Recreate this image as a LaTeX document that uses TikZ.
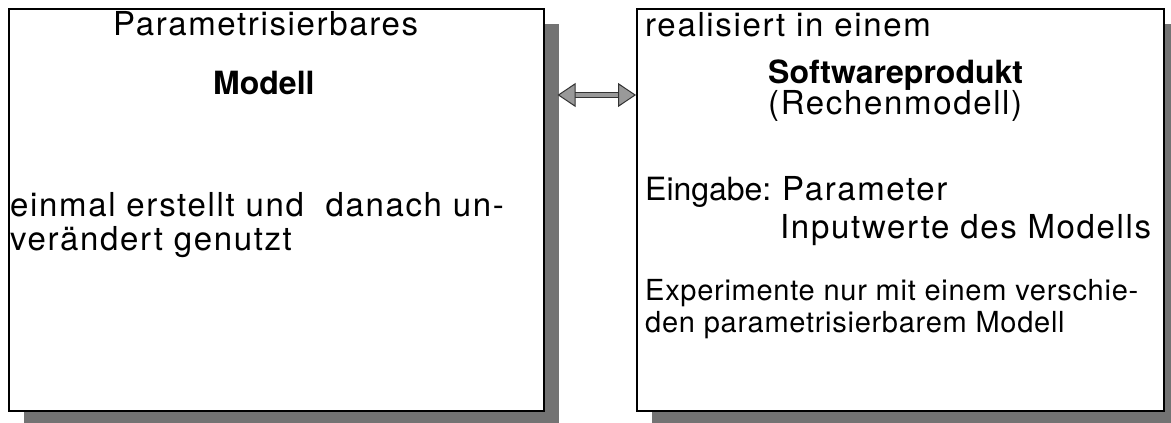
\documentclass[tikz,border=0pt]{standalone}
\usepackage{fontspec}
\setmainfont{TeX Gyre Heros}
\newfontfamily\widefont[LetterSpace=5]{TeX Gyre Heros}
\newfontfamily\notefont[LetterSpace=2.5]{TeX Gyre Heros}
\usetikzlibrary{arrows.meta,shadows}

\tikzset{
	panel/.style={draw, line width=1.6pt, fill=white, anchor=north west, inner sep=0pt,
		minimum height=402pt,
		drop shadow={shadow xshift=15pt, shadow yshift=-15pt, fill=black!55, opacity=1}},
	big/.style={anchor=base west, inner sep=0pt, font=\widefont\fontsize{33}{35}\selectfont},
	title/.style={anchor=base west, inner sep=0pt, font=\bfseries\fontsize{32}{35}\selectfont},
	small/.style={anchor=base west, inner sep=0pt, font=\notefont\fontsize{29}{32}\selectfont},
	head/.tip={Triangle[length=18pt, width=24pt, fill=black!40, color=black!80, line width=1pt]},
	link/.style={line width=1.2pt, draw=black!80, double=black!40, double distance=4pt, {head}-{head}}
}

\begin{document}
\begin{tikzpicture}[x=1pt, y=1pt]
	\useasboundingbox (0,0) rectangle (1171,-423);

	% the two panels
	\node[panel, minimum width=535pt] (mod) at (8,-8) {};
	\node[panel, minimum width=527pt] (soft) at (636,-8) {};

	% left panel
	\node[big] (modA) at (113,-35) {Parametrisierbares};
	\node[title] (modB) at (213,-94) {Modell};
	\node[big] (modC) at (10,-216) {einmal erstellt und\ \ danach un-};
	\node[big] (modD) at (10,-250) {verändert genutzt};

	% right panel
	\node[big] (softA) at (645,-36) {realisiert in einem};
	\node[title] (softB) at (768,-83) {Softwareprodukt};
	\node[big] (softC) at (768,-114) {(Rechenmodell)};
	\node[big, font=\fontsize{32}{35}\selectfont] (softD) at (645,-200) {Eingabe:};
	\node[big] (softE) at (782,-200) {Parameter};
	\node[big] (softF) at (780,-238) {Inputwerte des Modells};
	\node[small] (softG) at (645,-300) {Experimente nur mit einem verschie-};
	\node[small] (softH) at (645,-332) {den parametrisierbarem Modell};

	\draw[link] ([shift={(13,-87)}]mod.north east) -- ([yshift=-87pt]soft.north west);
\end{tikzpicture}
\end{document}
